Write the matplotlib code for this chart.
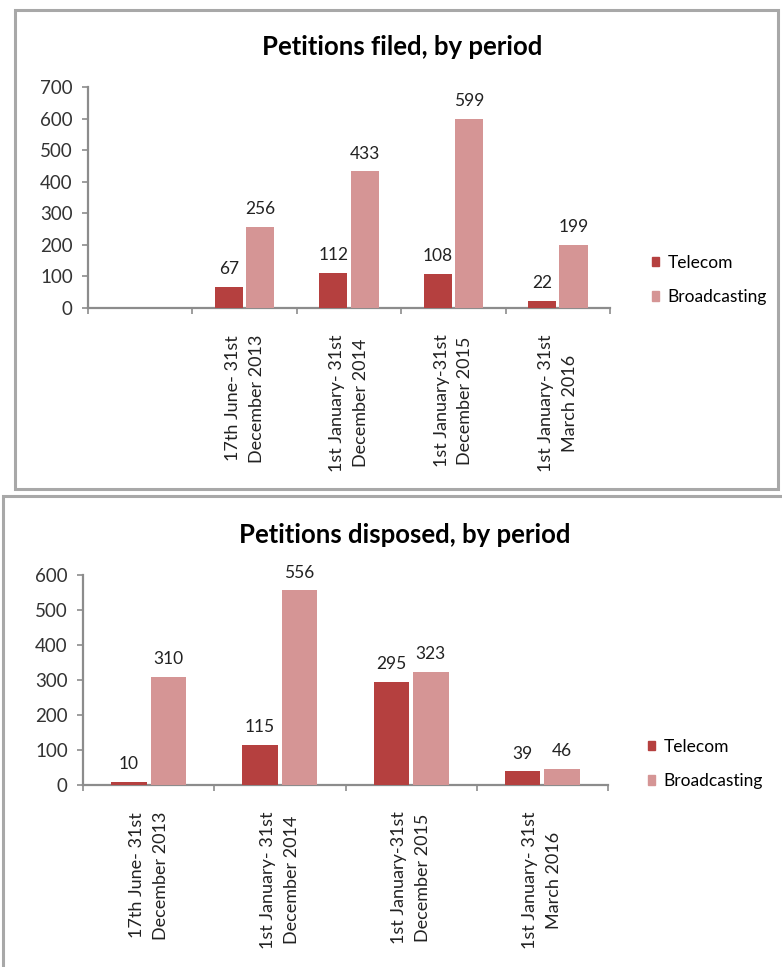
import numpy as np
import matplotlib
matplotlib.use('Agg')
import matplotlib.pyplot as plt
from matplotlib.patches import Rectangle, Patch

# data
periods = ['17th June- 31st\nDecember 2013',
           '1st January- 31st\nDecember 2014',
           '1st January-31st\nDecember 2015',
           '1st January- 31st\nMarch 2016']
filed_telecom = [67, 112, 108, 22]
filed_broadcasting = [256, 433, 599, 199]
disposed_telecom = [10, 115, 295, 39]
disposed_broadcasting = [310, 556, 323, 46]
series_names = ['Telecom', 'Broadcasting']

col_tel = '#B5403F'
col_brd = '#D59595'
spine_col = '#8C8C8C'
txt_font = ['Lato', 'DejaVu Sans']

fig = plt.figure(figsize=(7.82, 9.67), dpi=100, facecolor='w')

# panel frames (pixel coords -> figure fraction)
W, H = 782., 967.
def frame(x0, y0, x1, y1):
    fig.patches.append(Rectangle((x0/W, 1-y1/H), (x1-x0)/W, (y1-y0)/H,
                                 transform=fig.transFigure, fill=False,
                                 edgecolor='#A8A8A8', linewidth=2.2))
frame(15, 10, 778, 489)
frame(3, 496, 790, 975)


def draw(ax, tel, brd, nslots, first, ymax, title, title_xy, leg_xy):
    idx = np.arange(len(tel)) + first + 0.5
    w = 0.27
    ax.bar(idx - 0.15, tel, w, color=col_tel, label=series_names[0], zorder=3)
    ax.bar(idx + 0.15, brd, w, color=col_brd, label=series_names[1], zorder=3)
    for x, v in zip(idx - 0.15, tel):
        ax.annotate(str(v), (x, v), xytext=(0, 7), textcoords='offset points',
                    ha='center', va='bottom', fontsize=12.5, family=txt_font,
                    color='#222222')
    for x, v in zip(idx + 0.15, brd):
        ax.annotate(str(v), (x, v), xytext=(0, 7), textcoords='offset points',
                    ha='center', va='bottom', fontsize=12.5, family=txt_font,
                    color='#222222')
    ax.set_xlim(0, nslots)
    ax.set_ylim(0, ymax)
    ax.set_yticks(np.arange(0, ymax + 1, 100))
    ax.set_xticks(np.arange(0, nslots + 1))
    ax.set_xticklabels([])
    for x, lab in zip(idx, periods):
        ax.annotate(lab, (x, 0), xytext=(0, -19), textcoords='offset points',
                    rotation=90, ha='center', va='top', fontsize=13,
                    family=txt_font, color='#222222', linespacing=1.6,
                    multialignment='center')
    for s in ['top', 'right']:
        ax.spines[s].set_visible(False)
    for s in ['left', 'bottom']:
        ax.spines[s].set_color(spine_col)
        ax.spines[s].set_linewidth(1.6)
    ax.tick_params(axis='both', colors=spine_col, length=4, width=1.2,
                   labelcolor='#333333')
    ax.tick_params(axis='y', pad=7)
    for t in ax.get_yticklabels():
        t.set_family(txt_font)
        t.set_fontsize(13.5)
    fig.text(title_xy[0]/W, 1-title_xy[1]/H, title, ha='center', va='center',
             fontsize=18.5, fontweight='bold', family=txt_font)
    ax.legend(handles=[Patch(color=col_tel), Patch(color=col_brd)],
              labels=series_names, loc='center left',
              bbox_to_anchor=(leg_xy[0]/W, 1-leg_xy[1]/H),
              bbox_transform=fig.transFigure, frameon=False,
              handlelength=0.45, handleheight=0.45, handletextpad=0.45,
              labelspacing=1.05, prop={'family': txt_font, 'size': 12.5})


ax1 = fig.add_axes([88/W, 1-308/H, (610-88)/W, (308-87)/H])
draw(ax1, filed_telecom, filed_broadcasting, 5, 1, 700,
     'Petitions filed, by period', (402, 47), (636, 280))

ax2 = fig.add_axes([83/W, 1-785/H, (608-83)/W, (785-575)/H])
draw(ax2, disposed_telecom, disposed_broadcasting, 4, 0, 600,
     'Petitions disposed, by period', (405, 535), (632, 764))

plt.savefig('out.png', dpi=100)
